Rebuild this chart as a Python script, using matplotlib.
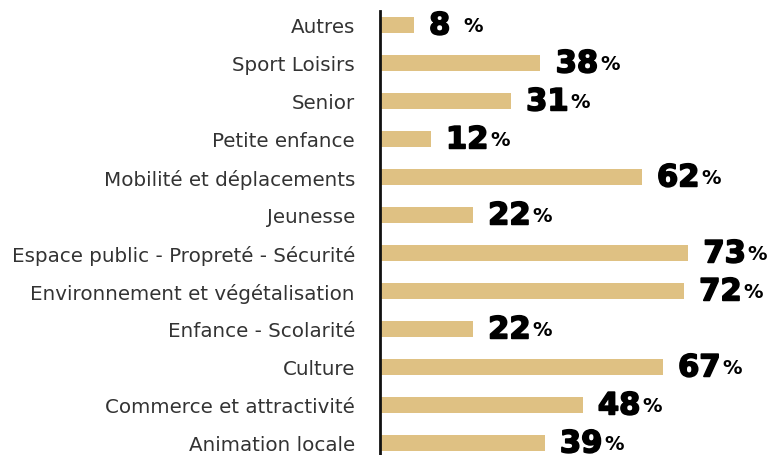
import matplotlib.pyplot as plt
import matplotlib.patheffects as pe

categories = [
    "Autres",
    "Sport Loisirs",
    "Senior",
    "Petite enfance",
    "Mobilité et déplacements",
    "Jeunesse",
    "Espace public - Propreté - Sécurité",
    "Environnement et végétalisation",
    "Enfance - Scolarité",
    "Culture",
    "Commerce et attractivité",
    "Animation locale",
]
values = [8, 38, 31, 12, 62, 22, 73, 72, 22, 67, 48, 39]

BAR_COLOR = "#DFC183"
LABEL_FONT = ["DejaVu Sans"]
NUM_FONT = ["DejaVu Sans"]


def main():
    fig = plt.figure(figsize=(7.7, 4.56), dpi=100)
    # axes placed so the black spine sits at x~380px, top at y~12px
    ax = fig.add_axes([380 / 770, 0.0, 390 / 770, 444 / 456])

    y = list(range(len(categories)))
    ax.barh(y, values, height=0.42, color=BAR_COLOR, zorder=2)

    ax.set_xlim(0, 92.4)
    ax.set_ylim(11.316, -0.368)

    ax.set_yticks(y)
    ax.set_yticklabels(categories, fontsize=14.3, color="#333333", family=LABEL_FONT)
    ax.tick_params(axis="y", length=0, pad=18)
    ax.set_xticks([])

    for side in ("top", "right", "bottom"):
        ax.spines[side].set_visible(False)
    ax.spines["left"].set_linewidth(2)
    ax.spines["left"].set_color("#111111")

    heavy = [pe.withStroke(linewidth=1.2, foreground="black")]

    # value labels: big bold number, then a smaller "%"
    for yi, v in zip(y, values):
        num_txt = f"{v}" + (" " if v < 10 else "")
        num = ax.annotate(num_txt, xy=(v, yi), xytext=(11, 1.5),
                          textcoords="offset points", va="center_baseline", ha="left",
                          fontsize=22, fontweight="bold", color="black",
                          family=NUM_FONT, path_effects=heavy)
        ax.annotate("%", xy=(1, 0.2), xycoords=num, xytext=(1.5, 0),
                    textcoords="offset points", va="bottom", ha="left",
                    fontsize=14, fontweight="bold", color="black",
                    family=NUM_FONT)

    fig.savefig("out.png", dpi=100)


if __name__ == "__main__":
    main()
